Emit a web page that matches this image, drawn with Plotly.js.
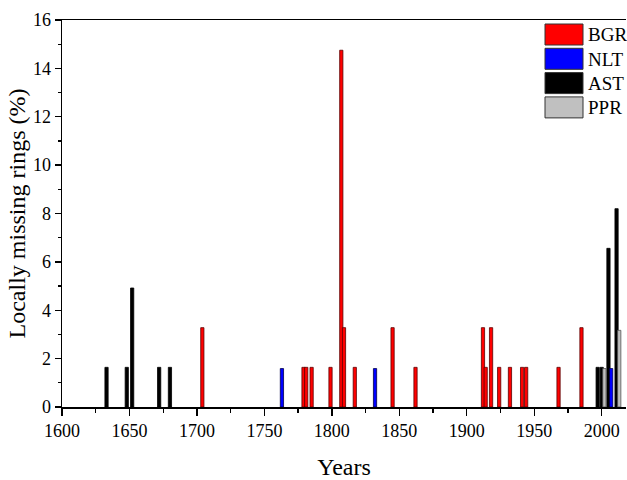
<!DOCTYPE html>
<html>
<head>
<meta charset="utf-8">
<script src="https://cdn.plot.ly/plotly-3.0.1.min.js"></script>
<style>html,body{margin:0;padding:0;background:#fff;}#chart{width:627px;height:480px;}</style>
</head>
<body>
<div id="chart"></div>
<script>
// Series: years and locally missing rings (%)
const seriesNames = ["BGR", "NLT", "AST", "PPR"];
const seriesColors = ["#ff0000", "#0000ff", "#000000", "#c0c0c0"];

const bgrYears = [1704, 1779, 1781, 1785, 1799, 1807, 1809, 1817, 1845, 1862, 1912, 1914, 1918, 1924, 1932, 1941, 1944, 1968, 1985];
const bgrValues = [3.28, 1.64, 1.64, 1.64, 1.64, 14.75, 3.28, 1.64, 3.28, 1.64, 3.28, 1.64, 3.28, 1.64, 1.64, 1.64, 1.64, 1.64, 3.28];

const nltYears = [1763, 1832, 2007];
const nltValues = [1.59, 1.59, 1.59];

const astYears = [1633, 1648, 1652, 1672, 1680, 1997, 2000, 2005, 2011];
const astValues = [1.64, 1.64, 4.92, 1.64, 1.64, 1.64, 1.64, 6.56, 8.2];

const pprYears = [2002, 2013];
const pprValues = [1.59, 3.17];

const xTickVals = [1600, 1650, 1700, 1750, 1800, 1850, 1900, 1950, 2000];
const yTickVals = [0, 2, 4, 6, 8, 10, 12, 14, 16];

const allX = [bgrYears, nltYears, astYears, pprYears];
const allY = [bgrValues, nltValues, astValues, pprValues];

const outline = ["#5a0000", "#00004a", "#000000", "#555555"];
const traces = seriesNames.map((n, i) => ({
  type: "bar",
  name: n,
  x: allX[i],
  y: allY[i],
  width: 2.4,
  marker: { color: seriesColors[i], line: { color: outline[i], width: 0.8 } },
  showlegend: false
}));
// draw order: BGR, AST, NLT, PPR so NLT sits over AST
const ordered = [traces[0], traces[2], traces[1], traces[3]];

const serif = "Liberation Serif, Times New Roman, serif";

// custom legend built from the series arrays
const shapes = [];
const annotations = [];
seriesNames.forEach((n, i) => {
  const top = 24 + i * 24.3;
  shapes.push({
    type: "rect", xref: "paper", yref: "paper",
    x0: (545 - 62) / 564, x1: (583 - 62) / 564,
    y0: 1 - (top + 21 - 20) / 387, y1: 1 - (top - 20) / 387,
    fillcolor: seriesColors[i], line: { color: "#333333", width: 1 }
  });
  annotations.push({
    xref: "paper", yref: "paper", x: (586 - 62) / 564, y: 1 - (top + 11 - 20) / 387,
    xanchor: "left", yanchor: "middle", text: n, showarrow: false,
    font: { family: serif, size: 19, color: "#000" }
  });
});

const layout = {
  width: 627, height: 480,
  margin: { l: 62, r: 1, t: 20, b: 73 },
  paper_bgcolor: "#fff", plot_bgcolor: "#fff",
  barmode: "overlay",
  showlegend: false,
  font: { family: serif, color: "#000" },
  xaxis: {
    range: [1600, 2018],
    tickvals: xTickVals,
    ticktext: xTickVals.map(String),
    ticks: "outside", ticklen: 7, tickwidth: 1.3, tickcolor: "#000",
    minor: { dtick: 25, tick0: 1625, ticks: "outside", ticklen: 4, tickwidth: 1.3, tickcolor: "#000" },
    showline: true, linecolor: "#000", linewidth: 1.5, mirror: true,
    showgrid: false, zeroline: false,
    tickfont: { family: serif, size: 18, color: "#000" },
    title: { text: "Years", font: { family: serif, size: 24, color: "#000" }, standoff: 18 }
  },
  yaxis: {
    range: [0, 16],
    tickvals: yTickVals,
    ticktext: yTickVals.map(String),
    ticks: "outside", ticklen: 6, tickwidth: 1.3, tickcolor: "#000",
    minor: { dtick: 1, ticks: "outside", ticklen: 3, tickwidth: 1.3, tickcolor: "#000" },
    showline: true, linecolor: "#000", linewidth: 1.5, mirror: false,
    showgrid: false, zeroline: false,
    tickfont: { family: serif, size: 18, color: "#000" },
    title: { text: "Locally missing rings (%)", font: { family: serif, size: 24, color: "#000" }, standoff: 0 }
  },
  shapes: shapes,
  annotations: annotations
};

Plotly.newPlot("chart", ordered, layout, { displayModeBar: false, staticPlot: true });
</script>
</body>
</html>
